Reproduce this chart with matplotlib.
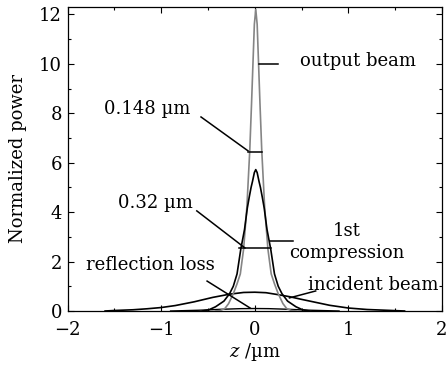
#!/usr/bin/env python3
"""Normalized power of the incident, compressed and output beams along z."""

import matplotlib

matplotlib.use("Agg")

import matplotlib.pyplot as plt
from matplotlib.ticker import MultipleLocator

# Values (z in um, normalized power).
output_z = [-0.42, -0.37, -0.32, -0.28, -0.23, -0.19, -0.155, -0.12, -0.085,
            -0.054, -0.035, -0.02, -0.005, 0.01, 0.025, 0.04, 0.055, 0.074,
            0.105, 0.14, 0.175, 0.21, 0.25, 0.3, 0.34, 0.39, 0.44]
output_p = [0.0, 0.02, 0.1, 0.3, 0.7, 1.1, 1.5, 2.5, 4.2,
            6.5, 8.4, 10.0, 11.6, 12.2, 11.6, 10.0, 8.4, 6.5,
            4.2, 2.5, 1.5, 1.1, 0.7, 0.3, 0.1, 0.02, 0.0]

compress_z = [-0.56, -0.49, -0.42, -0.33, -0.27, -0.23, -0.19, -0.15, -0.11,
              -0.08, -0.06, -0.04, -0.025, -0.005, 0.01, 0.025, 0.045, 0.06,
              0.08, 0.1, 0.13, 0.17, 0.21, 0.25, 0.29, 0.35, 0.44, 0.51, 0.58]
compress_p = [0.0, 0.05, 0.17, 0.4, 0.7, 1.0, 1.5, 2.5, 3.3,
              4.17, 4.6, 5.0, 5.24, 5.6, 5.72, 5.6, 5.24, 5.0,
              4.6, 4.17, 3.3, 2.5, 1.5, 1.0, 0.7, 0.4, 0.17, 0.05, 0.0]

incident_z = [-1.6, -1.5, -1.3, -1.15, -1.0, -0.85, -0.65, -0.45, -0.27, -0.12,
              0.0, 0.12, 0.25, 0.37, 0.5, 0.65, 0.8, 1.0, 1.2, 1.4, 1.6]
incident_p = [0.0, 0.02, 0.05, 0.09, 0.14, 0.22, 0.37, 0.55, 0.68, 0.75,
              0.76, 0.74, 0.66, 0.58, 0.47, 0.35, 0.23, 0.12, 0.06, 0.03, 0.0]

reflection_z = [-0.9, -0.6, -0.35, -0.15, 0.0, 0.15, 0.35, 0.6, 0.9]
reflection_p = [0.0, 0.03, 0.07, 0.095, 0.1, 0.095, 0.07, 0.03, 0.0]

GRAY = "#858585"
FONT = 13


def annotate(ax):
    """Labels, leader lines and FWHM bars."""
    line = dict(color="black", lw=1.1)
    txt = dict(fontsize=FONT, va="center")

    ax.plot([0.045, 0.25], [10.0, 10.0], **line)
    ax.text(0.48, 10.1, "output beam", ha="left", **txt)

    ax.plot([-0.575, -0.073], [7.85, 6.48], **line)
    ax.plot([-0.07, 0.075], [6.45, 6.45], **line)
    ax.text(-1.61, 8.18, "0.148 µm", ha="left", **txt)

    ax.plot([-0.62, -0.105], [4.05, 2.55], **line)
    ax.plot([-0.17, 0.17], [2.55, 2.55], **line)
    ax.text(-1.46, 4.37, "0.32 µm", ha="left", **txt)

    ax.plot([0.16, 0.41], [2.83, 2.83], **line)
    ax.text(0.98, 2.8, "1st\ncompression", ha="center", linespacing=1.3, **txt)

    ax.plot([-0.51, -0.05], [1.21, 0.12], **line)
    ax.text(-1.8, 1.86, "reflection loss", ha="left", **txt)

    ax.plot([0.65, 0.37], [0.81, 0.53], **line)
    ax.text(0.57, 1.05, "incident beam", ha="left", **txt)


def main():
    plt.rcParams["font.family"] = ["DejaVu Serif"]
    plt.rcParams["mathtext.fontset"] = "dejavuserif"

    fig = plt.figure(figsize=(4.48, 3.67), dpi=100)
    ax = fig.add_axes([0.151, 0.1526, 0.8356, 0.8284])

    ax.plot(reflection_z, reflection_p, color="black", lw=1.0)
    ax.plot(incident_z, incident_p, color="black", lw=1.2)
    ax.plot(output_z, output_p, color=GRAY, lw=1.2)
    ax.plot(compress_z, compress_p, color="black", lw=1.2)

    annotate(ax)

    ax.set_xlim(-2, 2)
    ax.set_ylim(0, 12.3)
    ax.xaxis.set_major_locator(MultipleLocator(1))
    ax.xaxis.set_minor_locator(MultipleLocator(0.5))
    ax.yaxis.set_major_locator(MultipleLocator(2))
    ax.yaxis.set_minor_locator(MultipleLocator(1))
    ax.tick_params(which="both", direction="in", top=True, right=True,
                   labelsize=FONT, width=0.8)
    ax.tick_params(which="major", length=4.5)
    ax.tick_params(which="minor", length=2.5)
    ax.tick_params(axis="x", pad=7.5)
    ax.tick_params(axis="y", pad=4)
    for spine in ax.spines.values():
        spine.set_linewidth(0.9)

    ax.set_xlabel(r"$z$ /µm", fontsize=FONT, labelpad=1)
    ax.set_ylabel("Normalized power", fontsize=FONT, labelpad=9)

    fig.savefig("out.png", dpi=100)
    plt.close(fig)


if __name__ == "__main__":
    main()
